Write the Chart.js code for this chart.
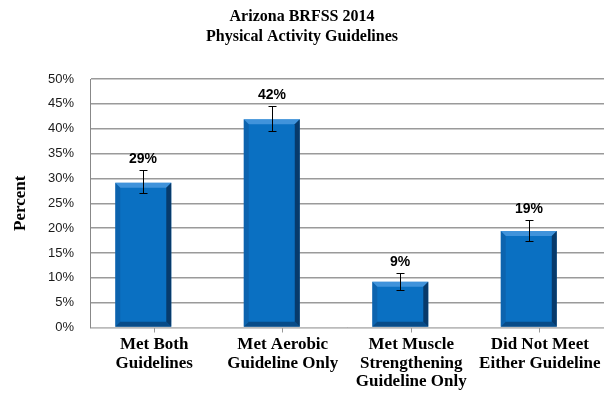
<!DOCTYPE html>
<html>
<head>
<meta charset="utf-8">
<script src="https://cdn.jsdelivr.net/npm/chart.js@4.4.1/dist/chart.umd.min.js"></script>
<style>
  html, body { margin: 0; padding: 0; background: #fff; }
  #wrap { width: 604px; height: 394px; }
</style>
</head>
<body>
<div id="wrap"><canvas id="mycanvas"></canvas></div>
<script>
// values
var categories = [
	['Met Both', 'Guidelines'],
	['Met Aerobic', 'Guideline Only'],
	['Met Muscle', 'Strengthening', 'Guideline Only'],
	['Did Not Meet', 'Either Guideline']
];
var percent = [29.1, 41.9, 9.2, 19.4];
var ciLower = [27.0, 39.6, 7.6, 17.4];
var ciUpper = [31.6, 44.5, 10.9, 21.6];
var valueLabels = ['29%', '42%', '9%', '19%'];
// empty second series, keeps the bars left of the tick like the original
var spacer = [null, null, null, null];
var yTicks = [0, 5, 10, 15, 20, 25, 30, 35, 40, 45, 50];

var serif = "'Liberation Serif', 'DejaVu Serif', serif";
var sans = "'Liberation Sans', Arial, sans-serif";

var barDecor = {
	id: 'barDecor',
	afterDatasetsDraw: function(chart) {
		var ctx = chart.ctx;
		var meta = chart.getDatasetMeta(0);
		var yScale = chart.scales.y;
		ctx.save();
		meta.data.forEach(function(bar, i) {
			var l = bar.x - bar.width / 2, r = bar.x + bar.width / 2;
			var t = bar.y, b = bar.base, e = 5;
			function poly(pts, col) {
				ctx.beginPath();
				ctx.moveTo(pts[0][0], pts[0][1]);
				for (var k = 1; k < pts.length; k++) ctx.lineTo(pts[k][0], pts[k][1]);
				ctx.closePath();
				ctx.fillStyle = col;
				ctx.fill();
			}
			poly([[l, t], [r, t], [r - e, t + e], [l + e, t + e]], 'rgba(100,170,235,0.6)');
			poly([[l, t], [l + e, t + e], [l + e, b - e], [l, b]], 'rgba(20,70,130,0.3)');
			poly([[r, t], [r, b], [r - e, b - e], [r - e, t + e]], 'rgba(5,35,70,0.7)');
			poly([[l, b], [r, b], [r - e, b - e], [l + e, b - e]], 'rgba(5,45,90,0.55)');

			// error bar
			var x = Math.round(bar.x);
			var yHi = Math.round(yScale.getPixelForValue(ciUpper[i]));
			var yLo = Math.round(yScale.getPixelForValue(ciLower[i]));
			ctx.strokeStyle = '#000';
			ctx.lineWidth = 1;
			ctx.beginPath();
			ctx.moveTo(x + 0.5, yHi);
			ctx.lineTo(x + 0.5, yLo);
			ctx.moveTo(x - 3.5, yHi + 0.5);
			ctx.lineTo(x + 4.5, yHi + 0.5);
			ctx.moveTo(x - 3.5, yLo + 0.5);
			ctx.lineTo(x + 4.5, yLo + 0.5);
			ctx.stroke();

			// value label
			ctx.fillStyle = '#000';
			ctx.font = 'bold 14px ' + sans;
			ctx.textAlign = 'center';
			ctx.textBaseline = 'bottom';
			ctx.fillText(valueLabels[i], x, yHi - 4);
		});
		ctx.restore();
	}
};

var chartdata = {
	labels: categories,
	datasets: [
		{
			label: 'Percent',
			data: percent,
			backgroundColor: '#0a70c2',
			borderWidth: 0,
			categoryPercentage: 0.342,
			barPercentage: 2.55
		},
		{
			label: '',
			data: spacer,
			backgroundColor: 'rgba(0,0,0,0)',
			categoryPercentage: 0.342,
			barPercentage: 2.55
		}
	]
};

var ctx = document.getElementById('mycanvas');

var barGraph = new Chart(ctx, {
	type: 'bar',
	data: chartdata,
	plugins: [barDecor],
	options: {
		responsive: true,
		maintainAspectRatio: false,
		animation: false,
		layout: { padding: { left: 0, right: 0, top: 0, bottom: 0 } },
		plugins: {
			legend: { display: false },
			tooltip: { enabled: false },
			title: {
				display: true,
				text: ['Arizona BRFSS 2014', 'Physical Activity Guidelines'],
				color: '#000',
				font: { family: serif, size: 16, weight: 'bold', lineHeight: '20px' },
				padding: { top: 7, bottom: 32 }
			}
		},
		scales: {
			x: {
				offset: true,
				grid: {
					drawOnChartArea: false,
					drawTicks: true,
					tickLength: 5,
					offset: false,
					color: '#999'
				},
				border: { color: '#bbb', width: 1 },
				ticks: {
					color: '#000',
					maxRotation: 0,
					autoSkip: false,
					padding: 3,
					font: { family: serif, size: 17, weight: 'bold', lineHeight: '18.5px' }
				}
			},
			y: {
				min: 0,
				max: 50,
				afterBuildTicks: function(scale) {
					scale.ticks = yTicks.map(function(v) { return { value: v }; });
				},
				afterFit: function(scale) { scale.width = 90; },
				grid: { drawTicks: false, color: '#9a9a9a', lineWidth: 1.5 },
				border: { color: '#888', width: 1 },
				ticks: {
					color: '#1a1a1a',
					padding: 16,
					font: { family: sans, size: 13 },
					callback: function(v) { return v + '%'; }
				},
				title: {
					display: true,
					text: 'Percent',
					color: '#000',
					font: { family: serif, size: 17, weight: 'bold' },
					padding: { top: 10, bottom: 0 }
				}
			}
		}
	}
});
</script>
</body>
</html>
